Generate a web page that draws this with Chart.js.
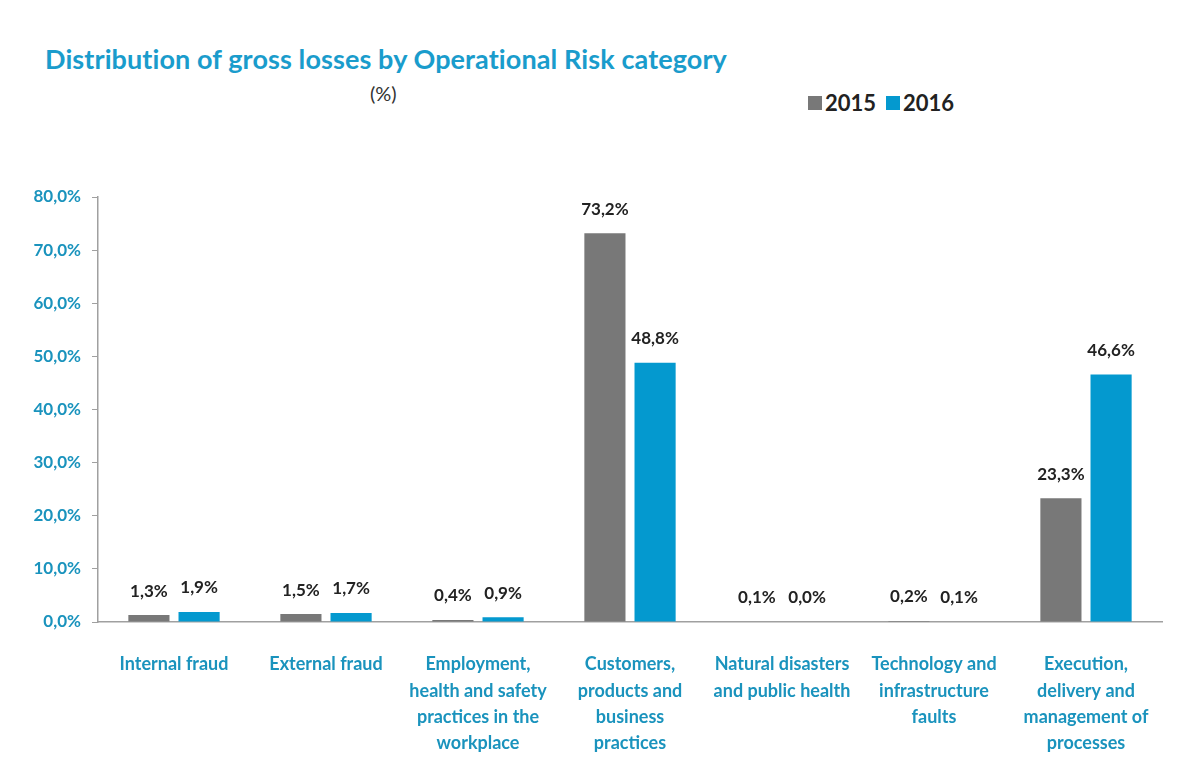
<!DOCTYPE html>
<html>
<head>
<meta charset="utf-8">
<script src="https://cdn.jsdelivr.net/npm/chart.js@4"></script>
<style>
  html, body { margin: 0; padding: 0; background: #fff; }
  #wrap { position: relative; width: 1179px; height: 758px; font-family: Lato, sans-serif; }
  #title { position: absolute; left: 45px; top: 42px; font-size: 27px; font-weight: bold; color: #1a9ccc; white-space: nowrap; letter-spacing: 0.1px; }
  #sub { position: absolute; left: 370px; top: 81px; font-size: 20px; color: #333; }
  #legend { position: absolute; left: 808px; top: 89px; font-size: 22px; font-weight: bold; color: #222; display: flex; align-items: center; }
  #legend span.sw { display: inline-block; width: 14px; height: 14px; margin-right: 3px; }
  #legend span.lb { margin-right: 10px; }
  canvas { position: absolute; left: 0; top: 0; }
</style>
</head>
<body>
<div id="wrap">
  <div id="title">Distribution of gross losses by Operational Risk category</div>
  <div id="sub">(%)</div>
  <div id="legend"></div>
  <canvas id="chart" width="1179" height="758"></canvas>
</div>
<script>
'use strict';

/* ── Data ───────────────────────────────────────────────────────── */
const categories = [
    ['Internal fraud'],
    ['External fraud'],
    ['Employment,', 'health and safety', 'practices in the', 'workplace'],
    ['Customers,', 'products and', 'business', 'practices'],
    ['Natural disasters', 'and public health'],
    ['Technology and', 'infrastructure', 'faults'],
    ['Execution,', 'delivery and', 'management of', 'processes']
];
const seriesNames = ['2015', '2016'];
const values2015 = [1.3, 1.5, 0.4, 73.2, 0.1, 0.2, 23.3];
const values2016 = [1.9, 1.7, 0.9, 48.8, 0.0, 0.1, 46.6];
const yTicks = [0, 10, 20, 30, 40, 50, 60, 70, 80];

const GRAY = '#787878';
const BLUE = '#0499cf';
const TEAL = '#1a93bd';
const fmt = v => v.toFixed(1).replace('.', ',') + '%';

/* ── Legend (HTML) ──────────────────────────────────────────────── */
const legendEl = document.getElementById('legend');
[GRAY, BLUE].forEach((c, i) => {
    legendEl.innerHTML += `<span class="sw" style="background:${c}"></span><span class="lb">${seriesNames[i]}</span>`;
});

/* ── Value labels plugin ────────────────────────────────────────── */
const valueLabels = {
    id: 'valueLabels',
    afterDatasetsDraw(chart) {
        const ctx = chart.ctx;
        ctx.save();
        ctx.font = 'bold 17px Lato, sans-serif';
        ctx.fillStyle = '#222';
        ctx.textAlign = 'center';
        ctx.textBaseline = 'middle';
        chart.data.datasets.forEach((ds, di) => {
            chart.getDatasetMeta(di).data.forEach((bar, i) => {
                ctx.fillText(fmt(ds.data[i]), bar.x, bar.y - 24);
            });
        });
        ctx.restore();
    }
};

/* ── Chart ──────────────────────────────────────────────────────── */
new Chart(document.getElementById('chart'), {
    type: 'bar',
    data: {
        labels: categories,
        datasets: [
            { label: seriesNames[0], data: values2015, backgroundColor: GRAY },
            { label: seriesNames[1], data: values2016, backgroundColor: BLUE }
        ]
    },
    options: {
        responsive: false,
        animation: false,
        layout: { padding: { top: 197, right: 17, left: 0, bottom: 0 } },
        datasets: { bar: { categoryPercentage: 0.66, barPercentage: 0.82 } },
        plugins: {
            legend: { display: false },
            tooltip: { enabled: false }
        },
        scales: {
            x: {
                grid: { display: false },
                border: { color: '#a0a0a0', width: 1.5 },
                ticks: {
                    color: TEAL,
                    font: { family: 'Lato', size: 18, weight: 'bold', lineHeight: 1.47 },
                    maxRotation: 0,
                    autoSkip: false,
                    padding: 21
                },
                afterFit: s => { s.height = 136; }
            },
            y: {
                min: 0,
                max: 80,
                afterBuildTicks: s => { s.ticks = yTicks.map(v => ({ value: v })); },
                grid: { drawOnChartArea: false, drawTicks: true, tickLength: 6, color: '#a0a0a0' },
                border: { color: '#a0a0a0', width: 1.5 },
                ticks: {
                    color: TEAL,
                    font: { family: 'Lato', size: 17, weight: 'bold' },
                    padding: 11,
                    callback: v => fmt(v)
                },
                afterFit: s => { s.width = 98; }
            }
        }
    },
    plugins: [valueLabels]
});
</script>
</body>
</html>
